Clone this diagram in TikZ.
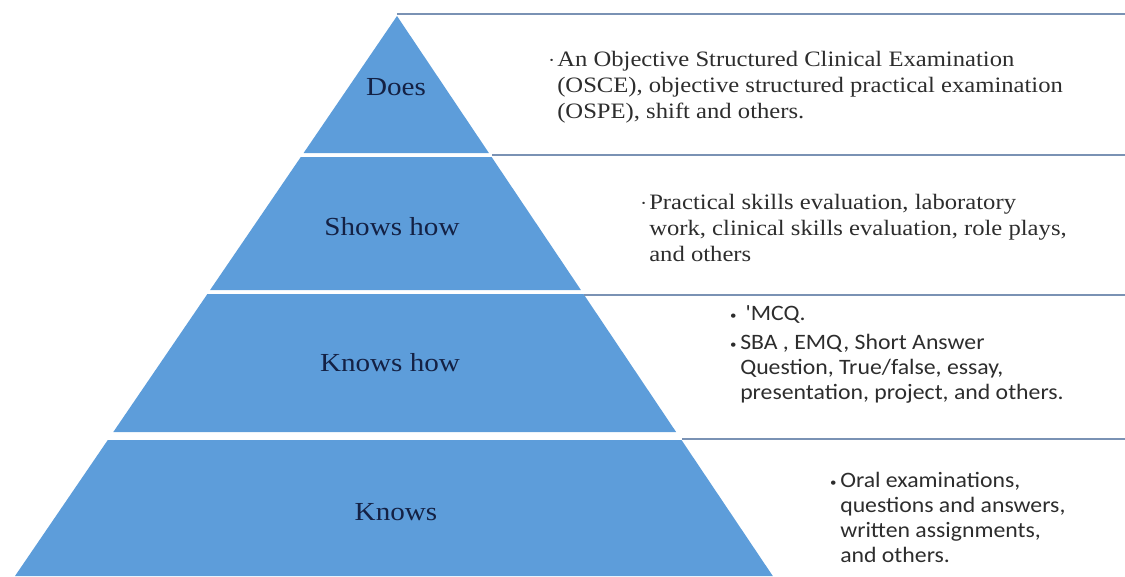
\documentclass[tikz,border=0pt]{standalone}
\usepackage{fontspec}
\usepackage{tikz}
\newfontfamily\pyrfont{Liberation Serif}[FakeStretch=1.12]
\newfontfamily\listfont{Carlito}[FakeStretch=1.08]
\definecolor{pyrblue}{RGB}{93,157,218}
\definecolor{navy}{RGB}{20,33,68}
\definecolor{rulegray}{RGB}{122,146,180}
\definecolor{ink}{RGB}{45,45,45}
\newcommand{\dotmark}{\llap{\raisebox{0.3ex}{\scriptsize\textbullet}\,}}
\newcommand{\sqmark}{\llap{\raisebox{0.1ex}{\small\textbullet}\,}}

\begin{document}
\begin{tikzpicture}[x=0.75pt,y=0.75pt,yscale=-1,xscale=1,
    layer/.style={fill=pyrblue},
    sep/.style={draw=rulegray, line width=1.5},
    lbl/.style={text=navy, inner sep=0.75pt, font=\pyrfont\fontsize{19.5}{22}\selectfont},
    serifrow/.style={text=ink, anchor=west, inner sep=0pt, align=left, font=\pyrfont\fontsize{16.5}{19.3}\selectfont},
    sansrow/.style={text=ink, anchor=west, inner sep=0pt, align=left, font=\listfont\fontsize{16.5}{18.75}\selectfont}]
        \useasboundingbox (0,0) rectangle (1125,576);
        
        % pyramid layers
        \fill[layer] (397,16) -- (488.9,153) -- (303.6,153) -- cycle ;
        \fill[layer] (300.8,157) -- (491.6,157) -- (580.9,290) -- (210.1,290) -- cycle ;
        \fill[layer] (207.4,294) -- (583.5,294) -- (676.1,432) -- (113.3,432) -- cycle ;
        \fill[layer] (107.8,440) -- (681.5,440) -- (772.8,576) -- (15,576) -- cycle ;
        
        % row rules
        \draw[sep] (397,14) -- (1125,14) ;
        \draw[sep] (492,155) -- (1125,155) ;
        \draw[sep] (584,295) -- (1125,295) ;
        \draw[sep] (682,439) -- (1125,439) ;
        
        \node[lbl] (does) at (396,87) {Does};
        \node[lbl] (showshow) at (392,227) {Shows how};
        \node[lbl] (knowshow) at (390,363) {Knows how};
        \node[lbl] (knows) at (396,512) {Knows};
        
        \node[serifrow] (osce) at (557,87) {\dotmark An Objective Structured Clinical Examination\\(OSCE), objective structured practical examination\\(OSPE), shift and others.};
        \node[serifrow] (skills) at (649,228) {\dotmark Practical skills evaluation, laboratory\\work, clinical skills evaluation, role plays,\\and others};
        \node[sansrow] (mcq) at (740,354) {\sqmark\ 'MCQ.\\[3pt]\sqmark SBA , EMQ, Short Answer\\Question, True/false, essay,\\presentation, project, and others.};
        \node[sansrow] (oral) at (840,517) {\sqmark Oral examinations,\\questions and answers,\\written assignments,\\and others.};
        
    \end{tikzpicture}
\end{document}
